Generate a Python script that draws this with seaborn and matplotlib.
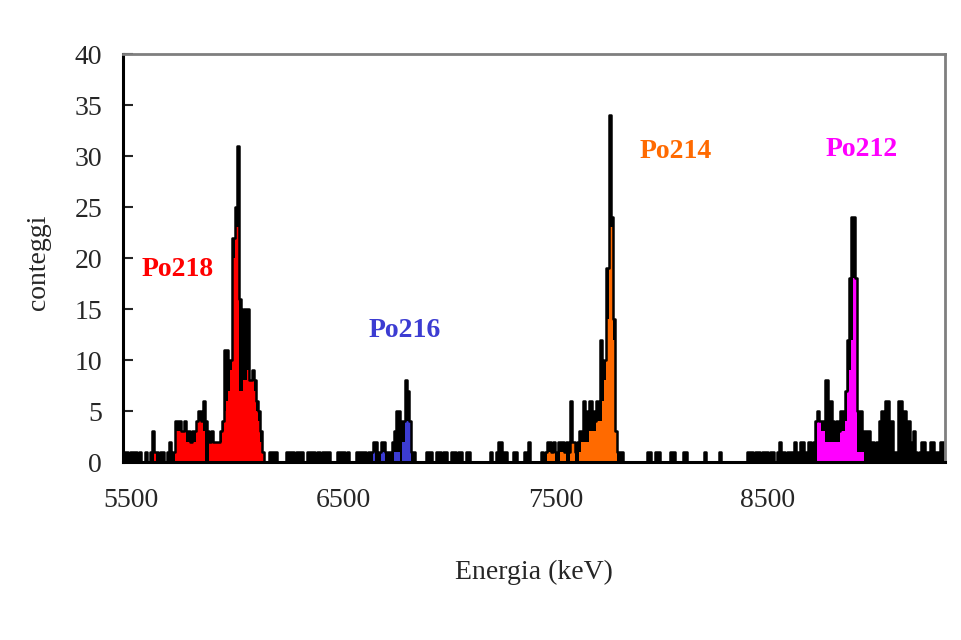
import numpy as np
import seaborn as sns
import matplotlib
matplotlib.use("Agg")
import matplotlib.pyplot as plt

# spectrum in 10 keV channels, first channel starts at 5470 keV
bin_start = 5470
bin_width = 10

bg_left = [1, 1, 0, 1, 1, 1, 0, 1, 0, 0, 1, 0, 1, 3, 1, 1, 0, 1, 1, 0,
           1, 2, 0, 1]
peak_218 = [4, 4, 4, 3, 4, 3, 3, 2, 3, 3, 4, 5, 4, 6, 4, 3, 2, 3, 2, 2,
            2, 3, 4, 11, 11, 10, 10, 22, 25, 31, 16, 12, 15, 15, 15, 8, 9, 8, 6, 5,
            3, 1]
bg_mid1 = [0, 0, 1, 1, 1, 1, 0, 0, 0, 0, 1, 1, 1, 1, 0, 1, 1, 1, 0, 0,
           1, 1, 1, 1, 0, 1, 0, 1, 1, 1, 1, 0, 0, 0, 1, 1, 1, 1, 0, 1,
           0, 0, 0, 1, 1, 1, 1, 1, 0, 1]
peak_216 = [1, 2, 2, 0, 1, 2, 2, 1, 1, 1, 2, 3, 5, 5, 4, 4, 8, 7, 4, 1]
bg_mid2 = [1, 0, 0, 0, 0, 0, 1, 1, 1, 0, 0, 1, 1, 0, 1, 1, 0, 0, 1, 1,
           0, 1, 1, 0, 0, 1, 1, 0, 0, 0, 0, 0, 0, 0, 0, 0, 1, 0, 0, 1,
           2, 2, 1, 1, 0, 0, 0, 1, 1, 0, 0, 0, 1, 0, 2, 0, 0, 0, 0, 0,
           1, 0, 1]
peak_214 = [2, 2, 1, 2, 1, 2, 2, 2, 1, 2, 1, 6, 2, 1, 2, 3, 3, 6, 5, 4,
            6, 5, 4, 6, 5, 12, 9, 10, 19, 34, 24, 14, 3, 1]
bg_mid3 = [1, 1, 0, 0, 0, 0, 0, 0, 0, 0, 0, 0, 0, 1, 1, 0, 0, 1, 1, 0,
           0, 0, 0, 0, 1, 1, 0, 0, 0, 0, 1, 1, 0, 0, 0, 0, 0, 0, 0, 0,
           1, 0, 0, 0, 0, 0, 0, 1, 0, 0, 0, 0, 0, 0, 0, 0, 0, 0, 0, 0,
           1, 1, 1, 0, 1, 1, 0, 1, 1, 1, 0, 1, 1, 0, 1, 2, 1, 1, 0, 1,
           1, 1, 2, 1, 1, 2, 2, 1, 1, 2, 1]
peak_212 = [2, 4, 5, 4, 4, 4, 8, 6, 6, 4, 3, 4, 3, 5, 5, 7, 12, 18, 24, 24,
            18, 5, 5, 3]
bg_right = [3, 3, 3, 2, 2, 1, 2, 4, 5, 4, 6, 6, 4, 4, 1, 1, 6, 6, 5, 5,
            4, 4, 2, 3, 1, 0, 1, 2, 2, 1, 1, 2, 2, 1, 1, 1, 2, 2]

total_counts = (bg_left + peak_218 + bg_mid1 + peak_216 + bg_mid2
                + peak_214 + bg_mid3 + peak_212 + bg_right)

# coloured parts of each peak: first channel (keV) and counts
po218_from = 5610
po218_fill = [1, 0, 0, 0, 0, 0, 0, 0, 0, 0,
              3, 3, 3, 3, 3, 2, 2, 2, 2, 2, 4, 4, 4, 3, 0, 0, 2, 2, 2, 2,
              2, 2, 3, 5, 6, 7, 9, 20, 23, 23, 7, 7, 8, 8, 9, 8, 8, 7, 5, 4,
              2, 1]
po216_from = 6630
po216_fill = [0, 1, 0, 0, 0, 1, 1, 0, 0, 0, 0, 1, 1, 1, 0, 2, 4, 4, 4, 0]
po214_from = 7460
po214_fill = [1, 1, 1, 1, 0, 0, 1, 1, 1, 0, 0, 2, 2, 0, 0, 1, 2, 2, 2, 2,
              3, 3, 3, 4, 4, 4, 6, 8, 14, 23, 23, 12, 3, 0]
po212_from = 8710
po212_fill = [0, 0, 4, 4, 3, 3, 2, 2, 2, 2, 2, 2, 2, 3, 3, 4, 7, 9, 12, 18,
              18, 1, 1, 1]

isotopes = ["Po218", "Po216", "Po214", "Po212"]
colors = ["#ff0000", "#3c3cd2", "#ff6a00", "#ff00ff"]

sns.set_style("white")
plt.rcParams["font.family"] = ["Liberation Serif", "DejaVu Serif"]

fig = plt.figure(figsize=(9.61, 6.4), dpi=100)
ax = fig.add_axes([0.128, 0.278, 0.8554, 0.6376])


def draw_hist(start, values, **kw):
    edges = start + bin_width * np.arange(len(values) + 1)
    centers = edges[:-1] + bin_width / 2
    sns.histplot(x=centers, weights=values, bins=edges.tolist(),
                 element="step", ax=ax, **kw)


draw_hist(bin_start, total_counts, fill=True, color="black", alpha=1,
          linewidth=0)
fills = [(po218_from, po218_fill), (po216_from, po216_fill),
         (po214_from, po214_fill), (po212_from, po212_fill)]
for (start, vals), col in zip(fills, colors):
    draw_hist(start, vals, fill=True, color=col, alpha=1, linewidth=0)
draw_hist(bin_start, total_counts, fill=False, color="black", linewidth=1.8)

label_pos = [(5723, 18.9), (6792, 12.9), (8067, 30.4), (8942, 30.6)]
for name, col, (x, y) in zip(isotopes, colors, label_pos):
    ax.text(x, y, name, color=col, fontsize=20, fontweight="bold",
            ha="center", va="center")

ax.set_xlim(5465, 9333)
ax.set_ylim(0, 40)
ax.set_xticks([5500, 6500, 7500, 8500])
ax.set_yticks(range(0, 41, 5))
ax.tick_params(axis="x", length=0, pad=19, labelsize=20)
ax.tick_params(axis="y", direction="in", length=7, width=1.5, pad=15,
               labelsize=20, left=True)

for side in ["left", "bottom"]:
    ax.spines[side].set_color("black")
    ax.spines[side].set_linewidth(2.2)
for side in ["top", "right"]:
    ax.spines[side].set_color("#7f7f7f")
    ax.spines[side].set_linewidth(2)

ax.set_xlabel("Energia (keV)", fontsize=20)
ax.set_ylabel("conteggi", fontsize=20)
ax.xaxis.set_label_coords(0.5, -0.24)
ax.yaxis.set_label_coords(-0.088, 0.49)

fig.savefig("out.png", dpi=100)
